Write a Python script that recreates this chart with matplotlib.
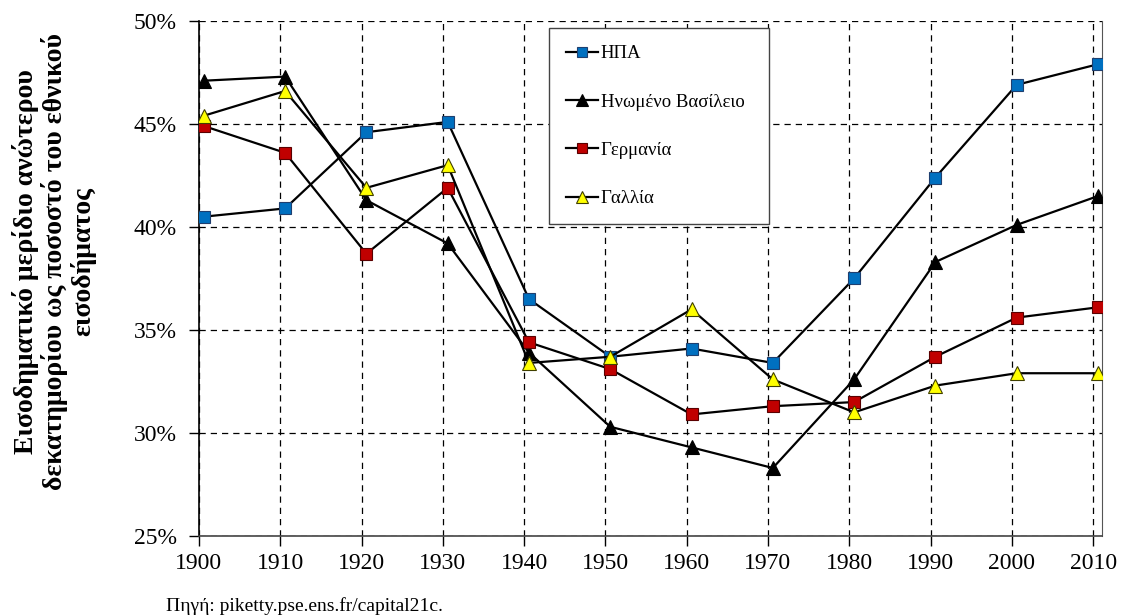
import numpy as np
import matplotlib
matplotlib.use("Agg")
import matplotlib.pyplot as plt
from matplotlib.ticker import FuncFormatter

plt.rcParams['font.family'] = ['Liberation Serif', 'DejaVu Serif']

years = [1900, 1910, 1920, 1930, 1940, 1950, 1960, 1970, 1980, 1990, 2000, 2010]
usa = [40.5, 40.9, 44.6, 45.1, 36.5, 33.7, 34.1, 33.4, 37.5, 42.4, 46.9, 47.9]
uk = [47.1, 47.3, 41.3, 39.2, 33.9, 30.3, 29.3, 28.3, 32.6, 38.3, 40.1, 41.5]
germany = [44.9, 43.6, 38.7, 41.9, 34.4, 33.1, 30.9, 31.3, 31.5, 33.7, 35.6, 36.1]
france = [45.4, 46.6, 41.9, 43.0, 33.4, 33.7, 36.0, 32.6, 31.0, 32.3, 32.9, 32.9]

names = ["ΗΠΑ", "Ηνωμένο Βασίλειο", "Γερμανία", "Γαλλία"]
ylabel = "Εισοδηματικό μερίδιο ανώτερου\nδεκατημορίου ως ποσοστό του εθνικού\nεισοδήματος"
source = "Πηγή: piketty.pse.ens.fr/capital21c."

# the points sit a little to the right of the decade gridlines in the original
x = np.array(years) + 0.6

fig = plt.figure(figsize=(11.26, 6.15), dpi=100)
ax = fig.add_axes([0.1767, 0.1285, 0.802, 0.8374])

series = [
    (usa, "s", "#0070C0", "#1F3F6F", 9),
    (uk, "^", "black", "black", 10),
    (germany, "s", "#C00000", "#5A0000", 9),
    (france, "^", "#FFFF00", "#404000", 10),
]
for (vals, mk, fc, ec, ms), name in zip(series, names):
    ax.plot(x, vals, color="black", lw=1.6, marker=mk, markersize=ms,
            markerfacecolor=fc, markeredgecolor=ec, markeredgewidth=0.8,
            label=name, zorder=3)

ax.set_xlim(1900, 2011.1)
ax.set_ylim(25, 50)
ax.set_xticks(years)
ax.set_yticks([25, 30, 35, 40, 45, 50])
ax.yaxis.set_major_formatter(FuncFormatter(lambda v, p: "%d%%" % v))
ax.grid(True, color="black", linestyle=(0, (5, 4)), linewidth=0.9)
ax.set_axisbelow(True)
ax.tick_params(axis="both", labelsize=17, direction="out", length=7, width=1)
ax.tick_params(axis="x", pad=5)
ax.tick_params(axis="y", pad=9)

ax.spines["top"].set_visible(False)
ax.spines["right"].set_color("#555555")
ax.spines["left"].set_linewidth(1.2)
ax.spines["bottom"].set_linewidth(1.2)
ax.spines["bottom"].set_color("#444444")

fig.text(0.048, 0.574, ylabel, rotation=90, ha="center", va="center",
         multialignment="center", fontsize=20, fontweight="bold", linespacing=1.1)

leg = ax.legend(loc="upper left", bbox_to_anchor=(0.3876, 0.986, 0.2434, 0.0),
                mode="expand", fontsize=13.5, labelspacing=1.67, handlelength=1.7,
                handletextpad=0.15, borderpad=0.9, fancybox=False, framealpha=1,
                borderaxespad=0, markerscale=0.85)
leg.get_frame().set_edgecolor("#444444")
leg.get_frame().set_linewidth(1.0)

fig.text(0.147, 0.0065, source, fontsize=14, ha="left", va="baseline")

fig.savefig("out.png", dpi=100)
